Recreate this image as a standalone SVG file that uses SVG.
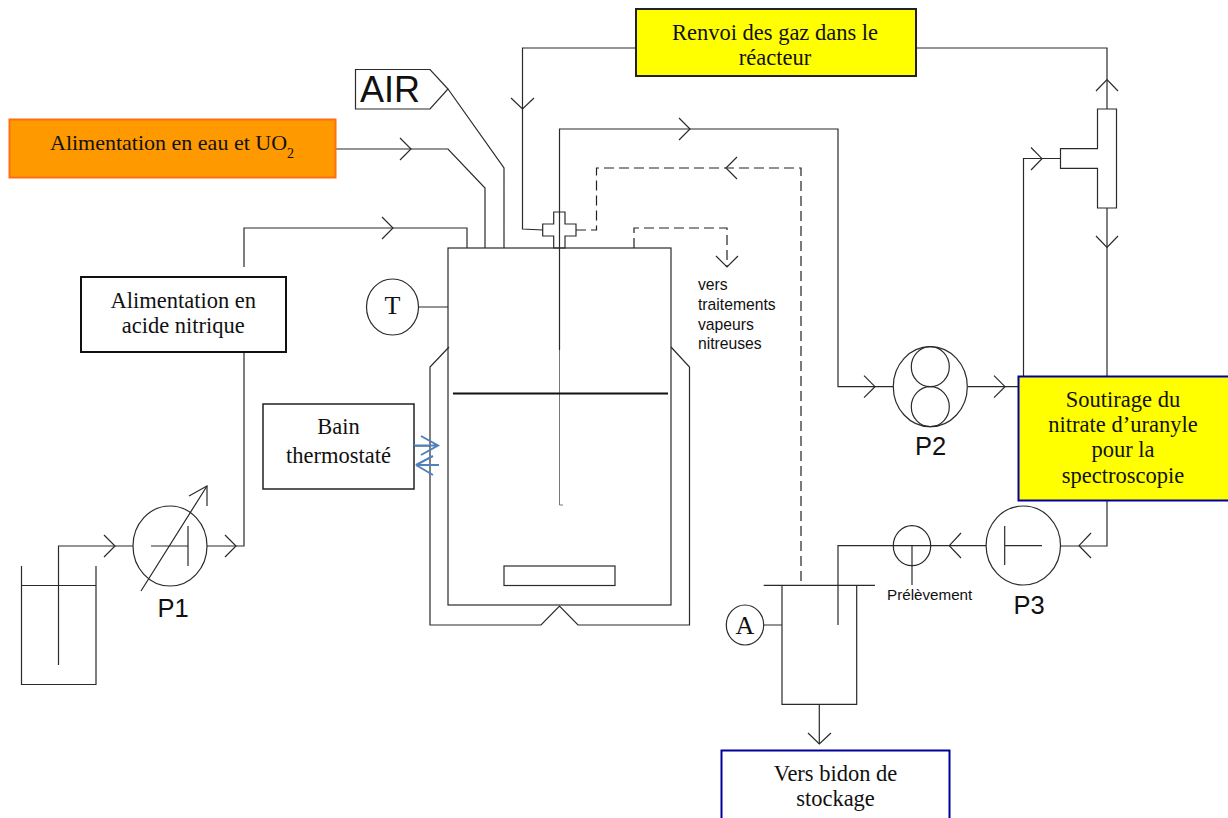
<svg xmlns="http://www.w3.org/2000/svg" width="1228" height="818" viewBox="0 0 1228 818">
<style>
.l{fill:none;stroke:#2a2a2a;stroke-width:1.2}
.d{fill:none;stroke:#222;stroke-width:1.2;stroke-dasharray:10 5}
.w{fill:#fff;stroke:#2a2a2a;stroke-width:1.2}
.b{fill:none;stroke:#4f81bd;stroke-width:2}
.s{font-family:"Liberation Serif","DejaVu Serif",serif;font-size:22.500px;fill:#111;text-anchor:middle}
.a{font-family:"Liberation Sans",Arial,sans-serif;fill:#111}
</style>
<rect width="1228" height="818" fill="#fff"/>
<g id="connectors">
<path class="l" d="M448 89L504 168V248M336 149H448L485 188V248M244 267V228H467V248M559.500 350V129H838V386.700H893M636 48H522.500V229L543 230M916 48H1107V109M1107 208V376M1023.500 376V158.500H1060.500M968 386.700H1018M1107 500V546H1061M986 545.700H838V625M58.500 665V546H133M207 546H244V352M819.300 704V744M419 307H448M764 625H782M414 446H430"/>
<path fill="none" stroke="#777" stroke-width="1" d="M559.500 350V505H563"/>
<path class="d" d="M576 230H596.500V168H801V585M634 248V228H727V267"/>
<path class="l" d="M400 138L411 149L400 160M382 217L393 228L382 239M679 118L690 129L679 140M511 98L522.500 109L534 98M737 157L726 168L737 179M716 256L727 267L738 256M1096 91L1107 79.500L1118 91M1096 236L1107 247.500L1118 236M1031 147.500L1042 158.700L1031 170M864 375.700L875 386.700L864 397.700M994 375.700L1005 386.700L994 397.700M104 535L115 546L104 557M225 535L236 546L225 557M1091 533L1079 545.700L1091 558M961 533L949.300 545.700L961 558M808 733L819.300 744L831 733M189 496L207 486V506"/>
</g>
<g id="reactor">
<rect class="l" x="448" y="248" width="223" height="357"/>
<path class="l" d="M449 347L430 367V625H541L559.500 606L578 625H689.500V367L671 347"/>
<path fill="none" stroke="#111" stroke-width="2" d="M453 393.500H668"/>
<rect class="l" x="504" y="566" width="111" height="19.500"/>
</g>
<g id="cross"><path class="l" d="M553.700 212H565V224H576V236H565V248H553.700V236H542.700V224H553.700Z"/></g>
<g id="T-sensor"><ellipse class="w" cx="392.500" cy="307" rx="26" ry="28"/><text x="392.500" y="314" class="s" style="font-size:26px">T</text></g>
<g id="air"><path class="l" d="M355.500 69.500H430L448 89L430 109H355.500Z"/><text x="360" y="102" class="a" font-size="36">AIR</text></g>
<g id="renvoi"><rect x="636" y="9" width="280" height="67" fill="#ff0" stroke="#222" stroke-width="2"/><text x="775" y="40" class="s">Renvoi des gaz dans le</text><text x="775" y="65" class="s">réacteur</text></g>
<g id="eau"><rect x="9.500" y="119.500" width="326" height="58" fill="#f90" stroke="#ff6f10" stroke-width="2"/><text x="50" y="150" class="s" style="text-anchor:start;font-size:22px">Alimentation en eau et UO<tspan font-size="14" dy="8">2</tspan></text></g>
<g id="acide"><rect x="81" y="277" width="205" height="75" fill="#fff" stroke="#111" stroke-width="2"/><text x="183.300" y="308" class="s">Alimentation en</text><text x="183.300" y="333" class="s">acide nitrique</text></g>
<g id="bain"><rect x="263" y="404" width="151" height="85" fill="#fff" stroke="#222" stroke-width="1.500"/><text x="338.500" y="434" class="s">Bain</text><text x="338.500" y="463" class="s">thermostaté</text></g>
<g id="bain-arrows"><path class="b" d="M414 445.500H438M421 436L438 445.500L421 455M439 465H416L433 456M416 465L433 475"/></g>
<g id="vapeurs" class="a" font-size="15.700"><text x="698" y="290">vers</text><text x="698" y="310">traitements</text><text x="698" y="330">vapeurs</text><text x="698" y="349">nitreuses</text></g>
<g id="P1"><ellipse class="l" cx="170" cy="546" rx="37" ry="40"/><path class="l" d="M151 546H188M188 526V566M141 591L207 486"/><text x="173" y="617" class="a" font-size="25.500" text-anchor="middle">P1</text></g>
<g id="beaker"><path class="l" d="M21.500 566V684.500H96V566M21.500 585.500H96"/></g>
<g id="P2"><ellipse class="l" cx="930.300" cy="386.700" rx="37" ry="40"/><ellipse class="l" cx="930.300" cy="366.700" rx="19" ry="20"/><ellipse class="l" cx="930.300" cy="406.700" rx="19" ry="20"/><text x="930.500" y="455" class="a" font-size="25.500" text-anchor="middle">P2</text></g>
<g id="tee"><path class="w" d="M1097.500 109H1116.500V208H1097.500V168.300H1060.500V148.700H1097.500Z"/></g>
<g id="soutirage"><rect x="1018.500" y="376.500" width="211" height="124" fill="#ff0" stroke="#00009c" stroke-width="2"/><text x="1123" y="407" class="s">Soutirage du</text><text x="1123" y="431.700" class="s">nitrate d’uranyle</text><text x="1123" y="456.700" class="s">pour la</text><text x="1123" y="482.700" class="s">spectroscopie</text></g>
<g id="P3"><ellipse class="l" cx="1023.300" cy="545.500" rx="37.200" ry="39.500"/><path class="l" d="M1004.700 526V565M1004.700 545.700H1042"/><text x="1029" y="614" class="a" font-size="25.500" text-anchor="middle">P3</text></g>
<g id="prelevement"><ellipse class="l" cx="912" cy="545.700" rx="18.700" ry="20"/><path class="l" d="M912 545.700V585"/><text x="887" y="600" class="a" font-size="15.200">Prélèvement</text></g>
<g id="tank"><path class="l" d="M782 585.300V704.300H856.700V585.300M763.700 585.300H875"/></g>
<g id="A-sensor"><ellipse class="w" cx="745" cy="625" rx="18.700" ry="20"/><text x="745" y="634" class="s" style="font-size:26px">A</text></g>
<g id="stockage"><rect x="721.500" y="750.500" width="228" height="80" fill="#fff" stroke="#00009c" stroke-width="2"/><text x="835.500" y="781" class="s">Vers bidon de</text><text x="835.500" y="806" class="s">stockage</text></g>
</svg>
